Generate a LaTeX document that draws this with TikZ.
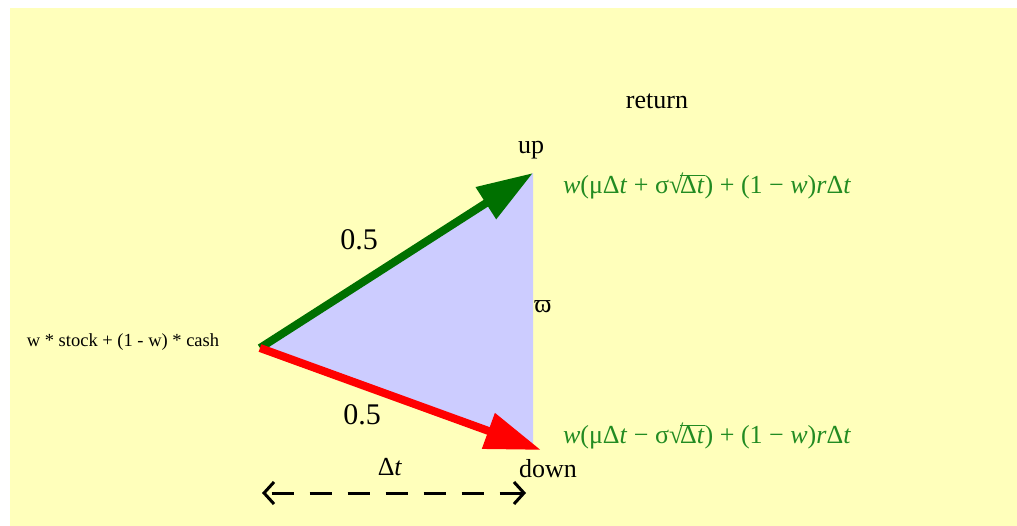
\documentclass[tikz,border=0pt]{standalone}
\usepackage{fontspec}
\setmainfont{Liberation Serif}
\usetikzlibrary{arrows.meta}
\definecolor{bgyellow}{RGB}{255,255,187}
\definecolor{lav}{RGB}{204,204,255}
\definecolor{arrowgreen}{RGB}{0,112,0}
\definecolor{textgreen}{RGB}{34,139,34}
\newcommand\myrad[1]{√\kern-0.12em$\overline{\hbox{#1}}$}
\tikzset{
  lbl/.style={inner sep=0pt, font=\fontsize{26}{30}\selectfont},
  half/.style={inner sep=0pt, font=\fontsize{30}{34}\selectfont},
  small/.style={inner sep=0pt, font=\fontsize{18.5}{22}\selectfont},
  formula/.style={inner sep=0pt, text=textgreen, font=\fontsize{26}{30}\selectfont},
  bigarrow/.style={line width=8pt},
}
\begin{document}
\begin{tikzpicture}[x=1pt,y=-1pt]
\useasboundingbox (0,0) rectangle (1017,526);
\fill[white] (0,0) rectangle (1017,526);
\fill[bgyellow] (10,8) rectangle (1017,526);
\coordinate (o) at (260,348);
\coordinate (u) at (533,173);
\coordinate (dd) at (533,447);
\coordinate (dt) at (541,450);
\fill[lav] (o) -- (u) -- (dd) -- cycle;
\draw[bigarrow, arrowgreen, -{Triangle[length=56pt,width=36pt]}] (o) -- (u);
\draw[bigarrow, red, -{Triangle[length=56pt,width=36pt]}] (o) -- (dt);
\node[lbl] (ret) at (657,101) {return};
\node[lbl] (up) at (531,150) {up};
\node[lbl] (down) at (548,469) {down};
\node[half] (p1) at (359,240) {0.5};
\node[half] (p2) at (362,415) {0.5};
\node[lbl] (vp) at (543,307) {ϖ};
\node[small] (start) at (123,342) {w * stock + (1 - w) * cash};
\node[lbl] (dtl) at (390,467) {Δ\textit{t}};
\node[formula] (fup) at (707,186) {\textit{w}(μΔ\textit{t} + σ\myrad{Δ\textit{t}}) + (1 − \textit{w})\textit{r}Δ\textit{t}};
\node[formula] (fdn) at (707,436) {\textit{w}(μΔ\textit{t} − σ\myrad{Δ\textit{t}}) + (1 − \textit{w})\textit{r}Δ\textit{t}};
\coordinate (dl) at (262,493);
\coordinate (dr) at (526,493);
\draw[line width=3pt, dash pattern=on 22pt off 16pt, dash phase=-6pt,
  {Straight Barb[length=10pt,width=22pt]}-{Straight Barb[length=10pt,width=22pt]}] (dl) -- (dr);
\end{tikzpicture}
\end{document}
